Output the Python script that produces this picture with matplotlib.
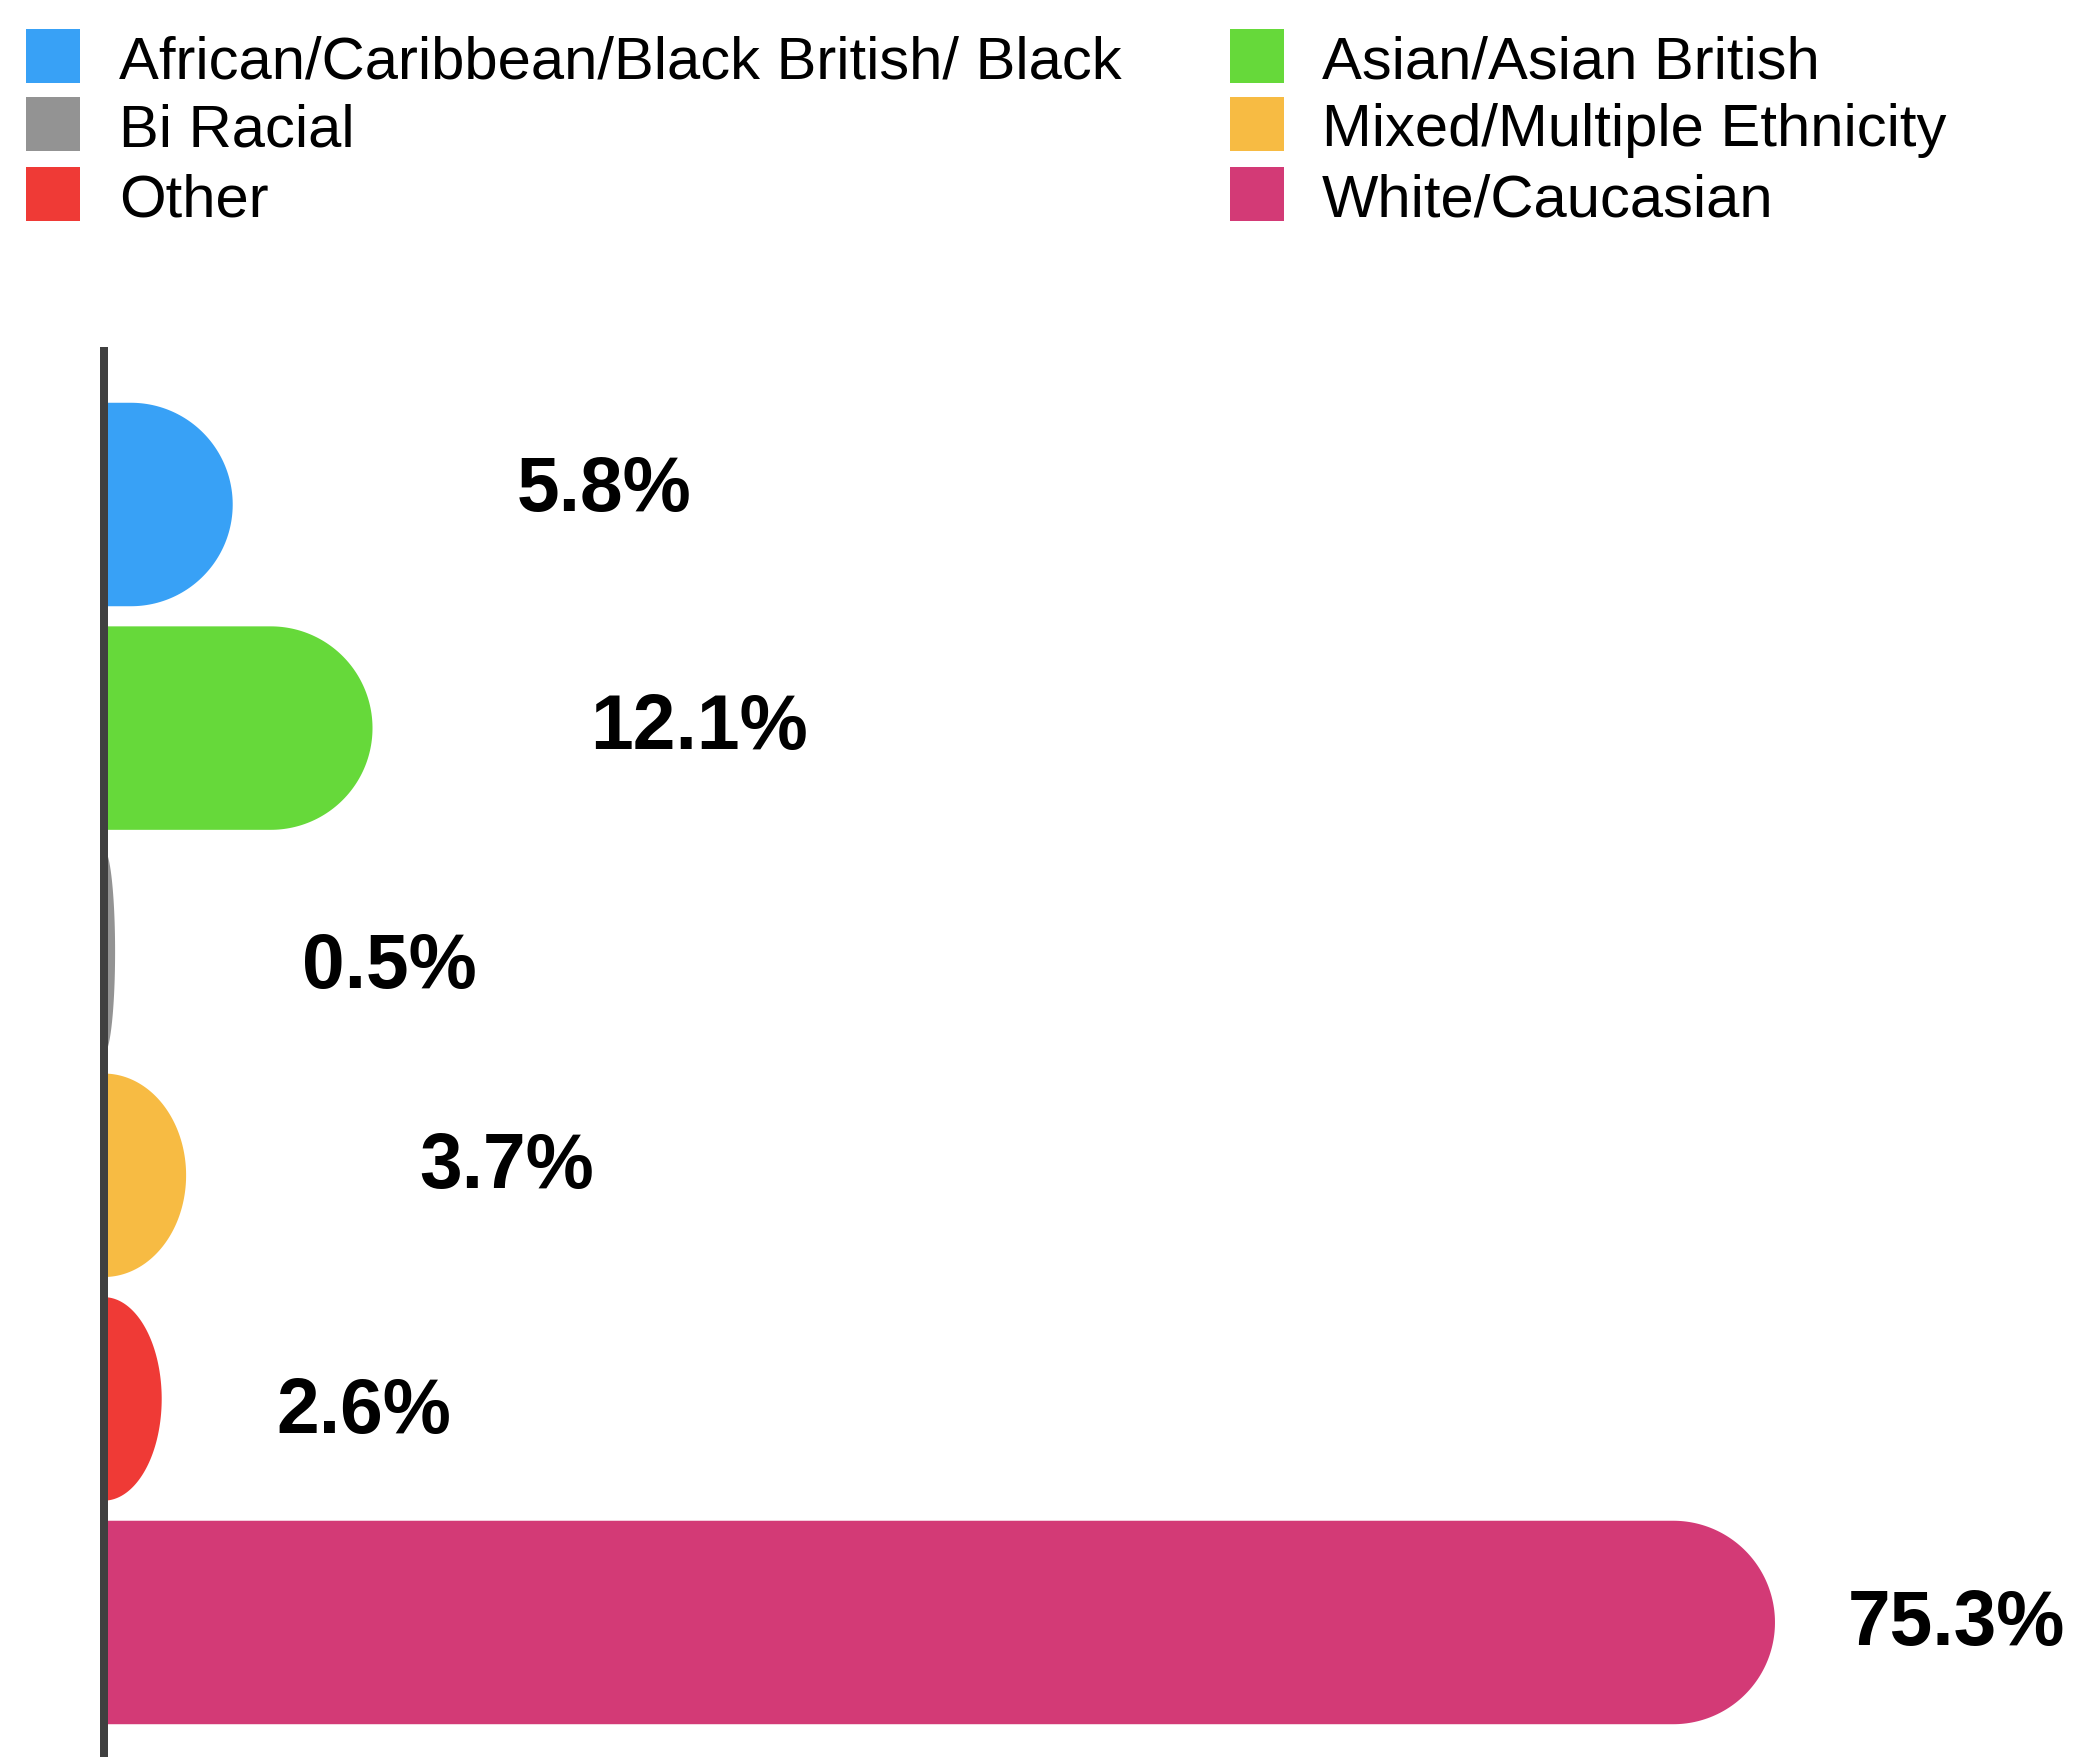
import numpy as np
import matplotlib
matplotlib.use("Agg")
import matplotlib.pyplot as plt
from matplotlib.patches import Rectangle, PathPatch
from matplotlib.path import Path

# ---- data ----
categories = [
    "African/Caribbean/Black British/ Black",
    "Asian/Asian British",
    "Bi Racial",
    "Mixed/Multiple Ethnicity",
    "Other",
    "White/Caucasian",
]
shares = [5.8, 12.1, 0.5, 3.7, 2.6, 75.3]
value_labels = ["5.8%", "12.1%", "0.5%", "3.7%", "2.6%", "75.3%"]
colors = ["#38A1F6", "#66D93A", "#939393", "#F7BB43", "#EF3A36", "#D33A76"]

# ---- figure / layout (pixels) ----
W, H, DPI = 2075, 1757, 100
fig = plt.figure(figsize=(W / DPI, H / DPI), dpi=DPI)
fig.patch.set_facecolor("white")

AX_LEFT, AX_TOP = 104, 351
ax = fig.add_axes([AX_LEFT / W, 0, (W - AX_LEFT) / W, (H - AX_TOP) / H])
X_MAX = 88.82
Y_TOP, Y_BOTTOM = -0.6865, 5.6016
ax.set_xlim(0, X_MAX)
ax.set_ylim(Y_BOTTOM, Y_TOP)

px_x = (W - AX_LEFT) / X_MAX                 # pixels per value unit
px_y = (H - AX_TOP) / (Y_BOTTOM - Y_TOP)     # pixels per category slot

BAR_H = 0.91
hh = BAR_H / 2
r_px = hh * px_y                             # end-cap radius in pixels


def rounded_bar(y, value, color):
    """Horizontal bar with a rounded (elliptical when short) right end."""
    rx = min(r_px, value * px_x) / px_x
    x0 = value - rx
    theta = np.linspace(-np.pi / 2, np.pi / 2, 120)
    arc_x = x0 + rx * np.cos(theta)
    arc_y = y + hh * np.sin(theta)
    xs = np.concatenate([[-1.0, x0], arc_x, [x0, -1.0]])
    ys = np.concatenate([[y - hh, y - hh], arc_y, [y + hh, y + hh]])
    verts = np.column_stack([xs, ys])
    verts = np.vstack([verts, verts[:1]])
    codes = [Path.MOVETO] + [Path.LINETO] * (len(verts) - 2) + [Path.CLOSEPOLY]
    ax.add_patch(PathPatch(Path(verts, codes), facecolor=color,
                           edgecolor="none", zorder=2))


for i, (v, c) in enumerate(zip(shares, colors)):
    rounded_bar(i, v, c)

# value labels: horizontal centre (px) and baseline offset from bar centre (px)
label_cx_px = [604, 699, 389, 507, 364, 1956]
label_base_px = [6.5, 21, 36, 12.7, 34, 23]
for i, txt in enumerate(value_labels):
    ax.text((label_cx_px[i] - AX_LEFT) / px_x, i + label_base_px[i] / px_y, txt,
            ha="center", va="baseline", fontsize=55.3, fontweight="bold",
            family="Liberation Sans", color="black", zorder=3)

for s in ["top", "right", "bottom"]:
    ax.spines[s].set_visible(False)
ax.spines["left"].set_color("#404040")
ax.spines["left"].set_linewidth(8 * 72 / DPI)
ax.spines["left"].set_zorder(4)
ax.set_xticks([])
ax.set_yticks([])
ax.patch.set_alpha(0)

# ---- legend (two columns, row-major) ----
col_box_x = [26, 1230]
col_text_x = [119, 1322]
row_box_top = [29, 97, 167]
BOX = 54
for i, (name, c) in enumerate(zip(categories, colors)):
    col, row = i % 2, i // 2
    bx, by = col_box_x[col], row_box_top[row]
    fig.add_artist(Rectangle((bx / W, 1 - (by + BOX) / H), BOX / W, BOX / H,
                             transform=fig.transFigure, facecolor=c,
                             edgecolor="none"))
    fig.text(col_text_x[col] / W, 1 - (by + BOX / 2 + 22.5) / H, name,
             ha="left", va="baseline", fontsize=43, family="Liberation Sans",
             color="black")

fig.savefig("out.png", dpi=DPI, facecolor="white")
